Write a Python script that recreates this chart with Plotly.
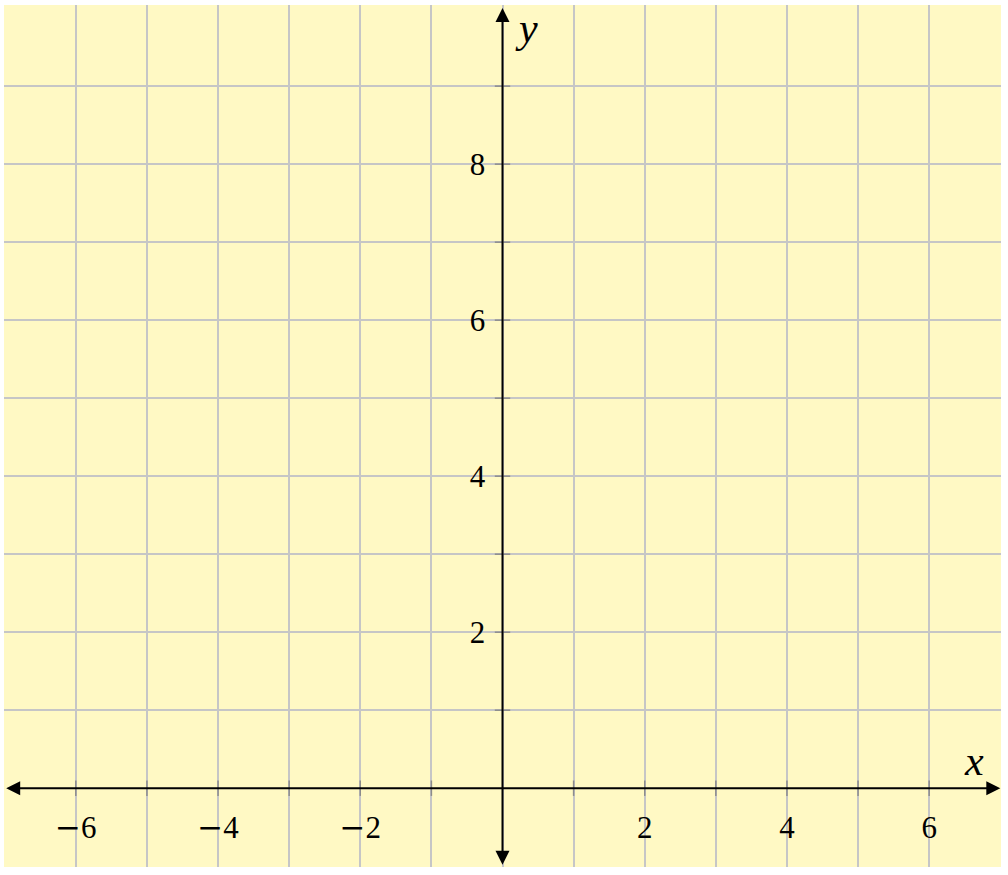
import plotly.graph_objects as go

# Data / tick definitions
x_range = [-7.01, 7.01]
y_range = [-1.01, 10.04]
x_grid = list(range(-6, 7))
y_grid = list(range(1, 10))
MINUS = "<span style='font-family:DejaVu Serif'>\u2212</span>"
x_labels = {-6: MINUS + "6", -4: MINUS + "4", -2: MINUS + "2", 2: "2", 4: "4", 6: "6"}
y_labels = {2: "2", 4: "4", 6: "6", 8: "8"}
x_tick_marks = [v for v in range(-6, 7) if v != 0]
y_tick_marks = list(range(1, 10))

BG = "#FFF9C4"
GRID = "#C6C6C6"
TICK = "#8C8C8C"
FONT = "Liberation Serif"

fig = go.Figure()

# small tick marks crossing the axes
fig.add_trace(go.Scatter(
    x=x_tick_marks, y=[0] * len(x_tick_marks), mode="markers",
    marker=dict(symbol="line-ns-open", size=11, color=TICK, line=dict(color=TICK, width=1.5)),
    hoverinfo="skip", showlegend=False, cliponaxis=False))
fig.add_trace(go.Scatter(
    x=[0] * len(y_tick_marks), y=y_tick_marks, mode="markers",
    marker=dict(symbol="line-ew-open", size=11, color=TICK, line=dict(color=TICK, width=1.5)),
    hoverinfo="skip", showlegend=False, cliponaxis=False))

fig.update_layout(
    width=1008, height=875,
    margin=dict(l=4, r=7, t=5, b=8),
    paper_bgcolor="white", plot_bgcolor=BG,
    showlegend=False,
    font=dict(family=FONT, size=31, color="black"),
    xaxis=dict(
        range=x_range, tickmode="array",
        tickvals=x_grid, ticktext=[x_labels.get(v, "") for v in x_grid],
        showgrid=True, gridcolor=GRID, gridwidth=2,
        zeroline=False, showline=False,
        ticks="outside", ticklen=12, tickcolor="rgba(0,0,0,0)",
        anchor="free", position=(0 - y_range[0]) / (y_range[1] - y_range[0]),
        tickfont=dict(family=FONT, size=31),
        fixedrange=True,
    ),
    yaxis=dict(
        range=y_range, tickmode="array",
        tickvals=y_grid, ticktext=[y_labels.get(v, "") for v in y_grid],
        showgrid=True, gridcolor=GRID, gridwidth=2,
        zeroline=False, showline=False,
        ticks="outside", ticklen=11, tickcolor="rgba(0,0,0,0)",
        anchor="free", position=(0 - x_range[0]) / (x_range[1] - x_range[0]),
        tickfont=dict(family=FONT, size=31),
        fixedrange=True,
    ),
)

# axis lines with arrows
fig.add_annotation(x=7.0, y=0, ax=-7.0, ay=0, xref="x", yref="y", axref="x", ayref="y",
                   text="", showarrow=True, arrowhead=2, arrowside="end+start",
                   arrowsize=1.4, arrowwidth=2, arrowcolor="black")
fig.add_annotation(x=0, y=10.0, ax=0, ay=-1.0, xref="x", yref="y", axref="x", ayref="y",
                   text="", showarrow=True, arrowhead=2, arrowside="end+start",
                   arrowsize=1.4, arrowwidth=2, arrowcolor="black")

# axis titles
fig.add_annotation(x=6.63, y=0.35, xref="x", yref="y", text="<i>x</i>", showarrow=False,
                   font=dict(family=FONT, size=42))
fig.add_annotation(x=0.34, y=9.74, xref="x", yref="y", text="<i>y</i>", showarrow=False,
                   font=dict(family=FONT, size=42))

fig.write_html("out.html", config={"displayModeBar": False},
               post_script="document.body.style.margin='0px';")
